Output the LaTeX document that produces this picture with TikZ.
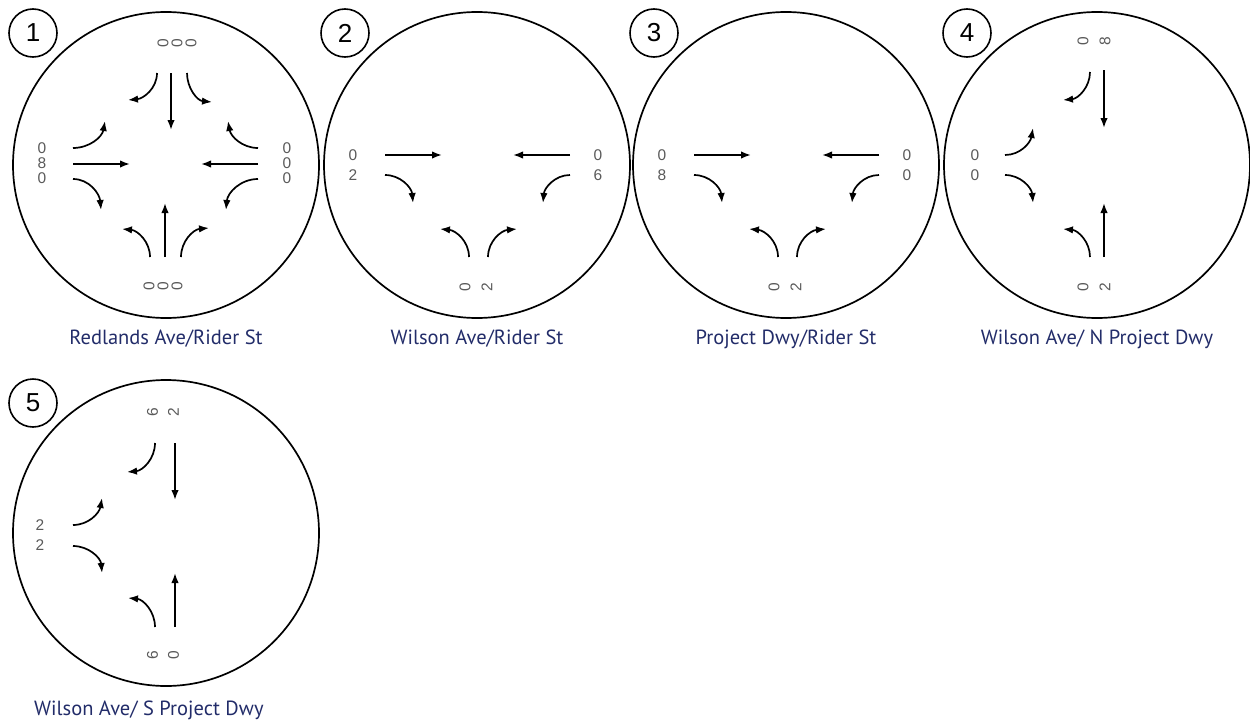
\documentclass[tikz,border=0pt]{standalone}
\usepackage{fontspec}
\setmainfont{Liberation Sans}
\newfontfamily\capfont{PT Sans}
\usetikzlibrary{arrows.meta}
\definecolor{navy}{RGB}{34,44,105}
\definecolor{numgray}{RGB}{90,90,90}
\begin{document}
\begin{tikzpicture}[x=1pt,y=-1pt,
  bigc/.style={circle,draw,line width=1.7pt,minimum size=306pt,inner sep=0pt},
  mv/.style={line width=1.7pt,-{Latex[length=10pt,width=7.5pt]}},
  vol/.style={text=numgray,inner sep=0pt,align=center,font=\fontsize{15.5}{#1}\selectfont},
  vol/.default=15,
  tag/.style={circle,draw,line width=1.6pt,minimum size=48pt,inner sep=0pt,font=\fontsize{26}{26}\selectfont},
  caption/.style={text=navy,inner sep=0pt,font=\capfont\fontsize{20.5}{20.5}\selectfont}]
\useasboundingbox (0,0) rectangle (1250,728);

% ---------- circle 1 ----------
\node[bigc] (c1) at (166,165) {};
\node[tag] (t1) at (33,33) {1};
\node[caption] (n1) at (166,339) {Redlands Ave/Rider St};
\begin{scope}[shift={(166,165)}]
  \node[vol] (c1w) at (-124,-2) {0\\8\\0};
  \node[vol] (c1e) at (121,-2) {0\\0\\0};
  \node[vol=14,rotate=90] (c1n) at (11,-122) {0\\0\\0};
  \node[vol=14,rotate=90] (c1s) at (-3,121) {0\\0\\0};
  \draw[mv] (-93,-1) -- (-36,-1);
  \draw[mv] (-93,-17) to[out=0,in=-100] (-61,-44);
  \draw[mv] (-93,14) to[out=0,in=95] (-65,45);
  \draw[mv] (92,-1) -- (35,-1);
  \draw[mv] (92,-17) to[out=180,in=-80] (62,-44);
  \draw[mv] (92,14) to[out=180,in=85] (60,45);
  \draw[mv] (5,-92) -- (5,-35);
  \draw[mv] (-9,-92) to[out=-90,in=5] (-38,-65);
  \draw[mv] (21,-92) to[out=-90,in=175] (46,-63);
  \draw[mv] (-1,92) -- (-1,38);
  \draw[mv] (-16,92) to[out=90,in=-5] (-44,64);
  \draw[mv] (15,92) to[out=90,in=185] (43,63);
\end{scope}

% ---------- circle 2 ----------
\node[bigc] (c2) at (477,165) {};
\node[tag] (t2) at (345,33) {2};
\node[caption] (n2) at (477,339) {Wilson Ave/Rider St};
\begin{scope}[shift={(477,165)}]
  \node[vol=20] (c2w) at (-124,0) {0\\2};
  \node[vol=20] (c2e) at (121,0) {0\\6};
  \node[vol=22,rotate=90] (c2s) at (-1,122) {0\\2};
  \draw[mv] (-92,-10) -- (-35,-10);
  \draw[mv] (-92,10) to[out=0,in=95] (-64,38);
  \draw[mv] (93,-10) -- (36,-10);
  \draw[mv] (93,10) to[out=180,in=85] (66,38);
  \draw[mv] (-8,92) to[out=90,in=-5] (-37,64);
  \draw[mv] (11,92) to[out=90,in=185] (40,64);
\end{scope}

% ---------- circle 3 ----------
\node[bigc] (c3) at (786,165) {};
\node[tag] (t3) at (654,33) {3};
\node[caption] (n3) at (786,339) {Project Dwy/Rider St};
\begin{scope}[shift={(786,165)}]
  \node[vol=20] (c3w) at (-124,0) {0\\8};
  \node[vol=20] (c3e) at (121,0) {0\\0};
  \node[vol=22,rotate=90] (c3s) at (-1,122) {0\\2};
  \draw[mv] (-92,-10) -- (-35,-10);
  \draw[mv] (-92,10) to[out=0,in=95] (-64,38);
  \draw[mv] (93,-10) -- (36,-10);
  \draw[mv] (93,10) to[out=180,in=85] (66,38);
  \draw[mv] (-8,92) to[out=90,in=-5] (-37,64);
  \draw[mv] (11,92) to[out=90,in=185] (40,64);
\end{scope}

% ---------- circle 4 ----------
\node[bigc] (c4) at (1097,165) {};
\node[tag] (t4) at (967,33) {4};
\node[caption] (n4) at (1097,339) {Wilson Ave/ N Project Dwy};
\begin{scope}[shift={(1097,165)}]
  \node[vol=20] (c4w) at (-122,0) {0\\0};
  \node[vol=22,rotate=90] (c4n) at (-3,-124) {0\\8};
  \node[vol=22,rotate=90] (c4s) at (-3,122) {0\\2};
  \draw[mv] (-92,-10) to[out=0,in=-100] (-64,-37);
  \draw[mv] (-92,10) to[out=0,in=95] (-64,38);
  \draw[mv] (7,-95) -- (7,-37);
  \draw[mv] (-7,-93) to[out=-90,in=5] (-34,-65);
  \draw[mv] (7,92) -- (7,38);
  \draw[mv] (-7,92) to[out=90,in=-5] (-34,64);
\end{scope}

% ---------- circle 5 ----------
\node[bigc] (c5) at (166,533) {};
\node[tag] (t5) at (33,403) {5};
\node[caption,anchor=west] (n5) at (34,710) {Wilson Ave/ S Project Dwy};
\begin{scope}[shift={(166,533)}]
  \node[vol=21,rotate=90] (c5n) at (-3,-121) {6\\2};
  \node[vol=20] (c5w) at (-126,2) {2\\2};
  \node[vol=21,rotate=90] (c5s) at (-3,122) {6\\0};
  \draw[mv] (9,-90) -- (9,-33);
  \draw[mv] (-11,-90) to[out=-90,in=5] (-39,-61);
  \draw[mv] (-93,-8) to[out=0,in=-100] (-64,-35);
  \draw[mv] (-93,13) to[out=0,in=95] (-64,40);
  \draw[mv] (9,94) -- (9,40);
  \draw[mv] (-11,94) to[out=90,in=-5] (-38,65);
\end{scope}
\end{tikzpicture}
\end{document}
